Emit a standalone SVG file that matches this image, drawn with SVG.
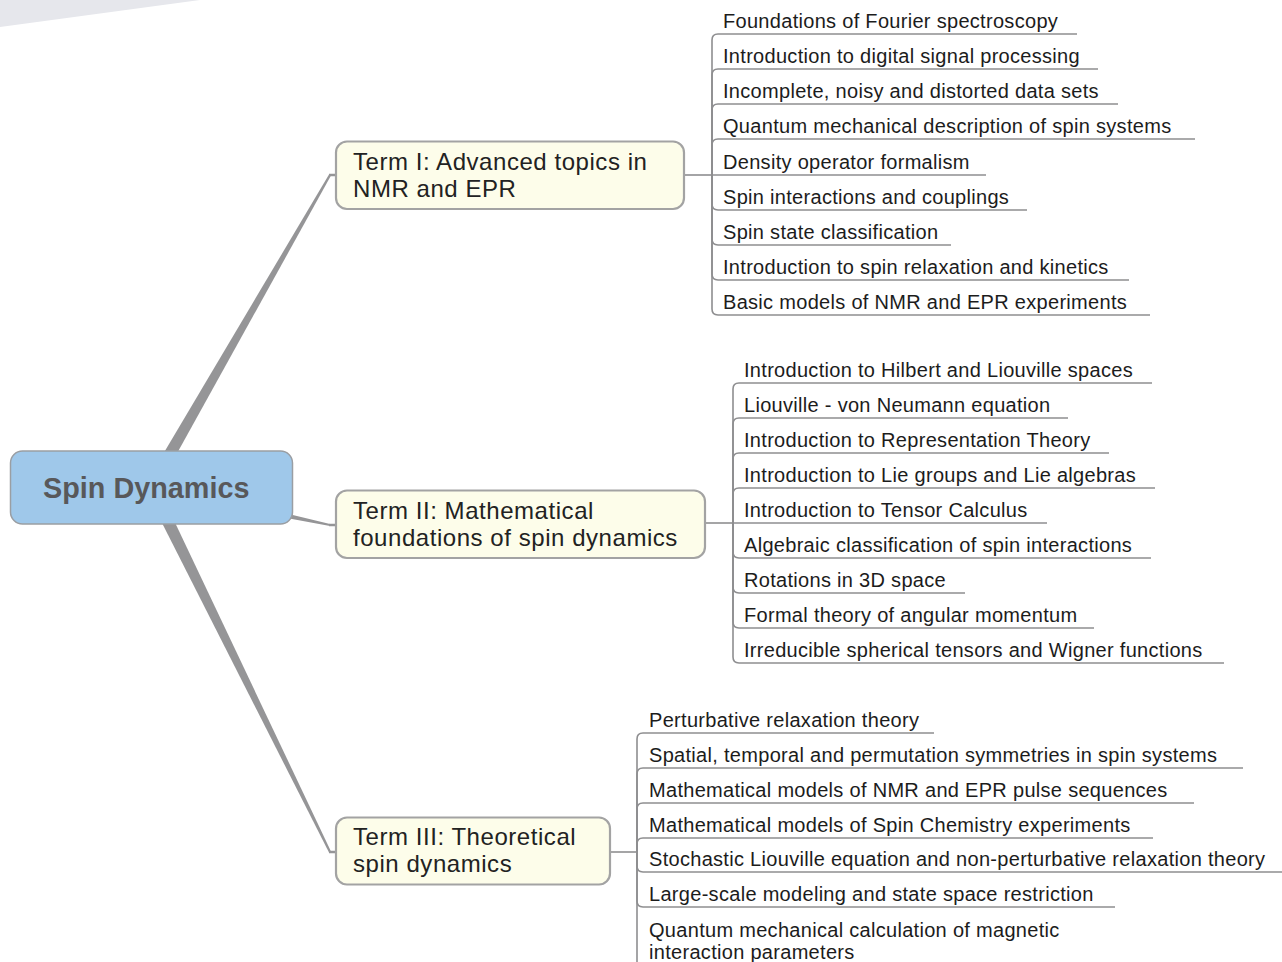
<svg xmlns="http://www.w3.org/2000/svg" width="1282" height="962" viewBox="0 0 1282 962">
<style>
.bg{fill:#ffffff}
.deco{fill:#e6e7ec}
.branch{fill:#959597}
.stub{stroke:#959597;stroke-width:2.5;fill:none}
.link{stroke:#8e8e90;stroke-width:1.6;fill:none}
.root{fill:#9fc8ea;stroke:#9a9ea3;stroke-width:1.5}
.term{fill:#fdfdea;stroke:#a3a3a3;stroke-width:2.2}
.rt{font-family:"Liberation Sans",Arial,sans-serif;font-weight:bold;font-size:28.8px;fill:#58585a}
.tt{font-family:"Liberation Sans",Arial,sans-serif;font-size:24px;letter-spacing:0.55px;fill:#222222}
.lt{font-family:"Liberation Sans",Arial,sans-serif;font-size:20px;letter-spacing:0.3px;fill:#1c1c1c}
</style>
<rect class="bg" x="0" y="0" width="1282" height="962"/>
<polygon class="deco" points="0,0 200,0 0,27"/>

<g id="connectors">
  <polygon class="branch" points="145.3,484 156.7,490 331,175.5 329,174.5"/>
  <polygon class="branch" points="150,480.5 152,493.5 330,526 330,524"/>
  <polygon class="branch" points="156.7,484 145.3,490 329,852.5 331,851.5"/>
  <path class="stub" d="M329,175 H337"/>
  <path class="stub" d="M329,525 H337"/>
  <path class="stub" d="M329,852 H337"/>

  <path class="link" d="M684,175 H712"/>
  <path class="link" d="M712,175 V40 Q712,34 718,34 H1077"/>
  <path class="link" d="M712,175 V75 Q712,69 718,69 H1098"/>
  <path class="link" d="M712,175 V110 Q712,104 718,104 H1118"/>
  <path class="link" d="M712,175 V145 Q712,139 718,139 H1195"/>
  <path class="link" d="M712,175 H986"/>
  <path class="link" d="M712,175 V204 Q712,210 718,210 H1027"/>
  <path class="link" d="M712,175 V239 Q712,245 718,245 H951"/>
  <path class="link" d="M712,175 V274 Q712,280 718,280 H1129"/>
  <path class="link" d="M712,175 V309 Q712,315 718,315 H1150"/>

  <path class="link" d="M705,523 H733"/>
  <path class="link" d="M733,523 V389 Q733,383 739,383 H1152"/>
  <path class="link" d="M733,523 V424 Q733,418 739,418 H1068"/>
  <path class="link" d="M733,523 V459 Q733,453 739,453 H1109"/>
  <path class="link" d="M733,523 V494 Q733,488 739,488 H1155"/>
  <path class="link" d="M733,523 H1047"/>
  <path class="link" d="M733,523 V552 Q733,558 739,558 H1151"/>
  <path class="link" d="M733,523 V587 Q733,593 739,593 H965"/>
  <path class="link" d="M733,523 V622 Q733,628 739,628 H1094"/>
  <path class="link" d="M733,523 V657 Q733,663 739,663 H1224"/>

  <path class="link" d="M610,852 H637"/>
  <path class="link" d="M637,852 V739 Q637,733 643,733 H934"/>
  <path class="link" d="M637,852 V774 Q637,768 643,768 H1243"/>
  <path class="link" d="M637,852 V809 Q637,803 643,803 H1194"/>
  <path class="link" d="M637,852 V844 Q637,838 643,838 H1153"/>
  <path class="link" d="M637,852 V866 Q637,872 643,872 H1282"/>
  <path class="link" d="M637,852 V901 Q637,907 643,907 H1115"/>
  <path class="link" d="M637,852 V962"/>
</g>

<g id="root">
  <rect class="root" x="10.5" y="451" width="282" height="73" rx="12"/>
  <text class="rt" x="43" y="498">Spin Dynamics</text>
</g>

<g id="term1">
  <rect class="term" x="336" y="141.5" width="348" height="67.5" rx="11"/>
  <text class="tt" x="353" y="170">Term I: Advanced topics in</text>
  <text class="tt" x="353" y="197">NMR and EPR</text>
</g>
<g id="term2">
  <rect class="term" x="336" y="490.5" width="369" height="67.5" rx="11"/>
  <text class="tt" x="353" y="519">Term II: Mathematical</text>
  <text class="tt" x="353" y="546">foundations of spin dynamics</text>
</g>
<g id="term3">
  <rect class="term" x="336" y="817.5" width="274" height="67" rx="11"/>
  <text class="tt" x="353" y="845">Term III: Theoretical</text>
  <text class="tt" x="353" y="872">spin dynamics</text>
</g>

<g id="leaves1">
  <text class="lt" x="723" y="28">Foundations of Fourier spectroscopy</text>
  <text class="lt" x="723" y="63">Introduction to digital signal processing</text>
  <text class="lt" x="723" y="98">Incomplete, noisy and distorted data sets</text>
  <text class="lt" x="723" y="133">Quantum mechanical description of spin systems</text>
  <text class="lt" x="723" y="169">Density operator formalism</text>
  <text class="lt" x="723" y="204">Spin interactions and couplings</text>
  <text class="lt" x="723" y="239">Spin state classification</text>
  <text class="lt" x="723" y="274">Introduction to spin relaxation and kinetics</text>
  <text class="lt" x="723" y="309">Basic models of NMR and EPR experiments</text>
</g>
<g id="leaves2">
  <text class="lt" x="744" y="377">Introduction to Hilbert and Liouville spaces</text>
  <text class="lt" x="744" y="412">Liouville - von Neumann equation</text>
  <text class="lt" x="744" y="447">Introduction to Representation Theory</text>
  <text class="lt" x="744" y="482">Introduction to Lie groups and Lie algebras</text>
  <text class="lt" x="744" y="517">Introduction to Tensor Calculus</text>
  <text class="lt" x="744" y="552">Algebraic classification of spin interactions</text>
  <text class="lt" x="744" y="587">Rotations in 3D space</text>
  <text class="lt" x="744" y="622">Formal theory of angular momentum</text>
  <text class="lt" x="744" y="657">Irreducible spherical tensors and Wigner functions</text>
</g>
<g id="leaves3">
  <text class="lt" x="649" y="727">Perturbative relaxation theory</text>
  <text class="lt" x="649" y="762">Spatial, temporal and permutation symmetries in spin systems</text>
  <text class="lt" x="649" y="797">Mathematical models of NMR and EPR pulse sequences</text>
  <text class="lt" x="649" y="832">Mathematical models of Spin Chemistry experiments</text>
  <text class="lt" x="649" y="866">Stochastic Liouville equation and non-perturbative relaxation theory</text>
  <text class="lt" x="649" y="901">Large-scale modeling and state space restriction</text>
  <text class="lt" x="649" y="937">Quantum mechanical calculation of magnetic</text>
  <text class="lt" x="649" y="959">interaction parameters</text>
</g>
</svg>
